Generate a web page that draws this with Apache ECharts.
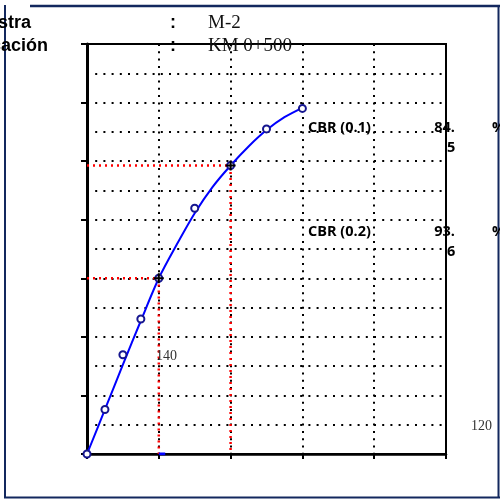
<!DOCTYPE html>
<html>
<head>
<meta charset="utf-8">
<script src="https://cdn.jsdelivr.net/npm/echarts@6/dist/echarts.min.js"></script>
<style>html,body{margin:0;padding:0;background:#fff}#c{width:500px;height:499px}</style>
</head>
<body>
<div id="c"></div>
<script>
// measured penetration (in) and load readings
var penetration = [0, 0.025, 0.05, 0.075, 0.1, 0.15, 0.2, 0.25, 0.3];
var load = [0, 152, 339, 461, 600, 839, 985, 1110, 1180];
// fitted curve
var curvePenetration = [0, 0.025, 0.05, 0.075, 0.1, 0.125, 0.15, 0.175, 0.2, 0.225, 0.25, 0.275, 0.3];
var curveLoad = [0, 152, 305, 455, 600, 715, 822, 912, 985, 1050, 1106, 1150, 1182];
// CBR reference points (penetration, load)
var cbr01 = [0.1, 600];
var cbr02 = [0.2, 985];
var cbrLabels = ['CBR (0.1)', 'CBR (0.2)'];
var cbrValuesTop = ['84.', '93.'];
var cbrValuesBottom = ['5', '6'];
var xTicks = [0, 0.1, 0.2, 0.3, 0.4, 0.5];
var yMin = 0, yMax = 1400, yInterval = 200;
var strayLabels = ['140', '120'];
var headerLabels = ['Muestra', 'Ubicación'];
var headerValues = ['M-2', 'KM 0+500'];
var axisMark = [[0.1, 0], [0.109, 0]];

var chart = echarts.init(document.getElementById('c'), null, {renderer: 'canvas'});

var pointData = penetration.map(function (p, i) { return [p, load[i]]; });
var curveData = curvePenetration.map(function (p, i) { return [p, curveLoad[i]]; });
function guide(pt) { return [[0, pt[1]], [pt[0], pt[1]], [pt[0], 0]]; }

var navy = '#13285e';
var hdrFont = 'bold 18px "Liberation Sans", Arial, sans-serif';
var serifFont = '19px "Liberation Serif", "Times New Roman", serif';
var cbrFont = 'bold 14.5px "Open Sans", sans-serif';

var option = {
  animation: false,
  backgroundColor: '#fff',
  grid: {left: 87, top: 44, width: 359, height: 410, show: true, borderColor: '#000', borderWidth: 2, backgroundColor: 'transparent'},
  xAxis: {
    type: 'value', min: xTicks[0], max: xTicks[xTicks.length - 1], interval: 0.1,
    axisLabel: {show: false},
    axisLine: {show: true, lineStyle: {color: '#000', width: 2.5}},
    axisTick: {show: true, length: 5, lineStyle: {color: '#000', width: 2}},
    splitLine: {show: true, lineStyle: {color: '#000', width: 2, type: [2, 5.3]}}
  },
  yAxis: {
    type: 'value', min: yMin, max: yMax, interval: yInterval,
    axisLabel: {show: false},
    axisLine: {show: true, lineStyle: {color: '#000', width: 3}},
    axisTick: {show: true, length: 6, lineStyle: {color: '#000', width: 2}},
    splitLine: {show: true, lineStyle: {color: '#000', width: 2, type: [2, 6.2]}},
    minorTick: {show: true, splitNumber: 2, length: 0},
    minorSplitLine: {show: true, lineStyle: {color: '#000', width: 2, type: [2, 6.2]}}
  },
  series: [
    {type: 'line', data: guide(cbr01), symbol: 'none', z: 2, lineStyle: {color: '#ff0000', width: 2.5, type: [2, 4]}},
    {type: 'line', data: guide(cbr02), symbol: 'none', z: 2, lineStyle: {color: '#ff0000', width: 2.5, type: [2, 4]}},
    {type: 'line', data: axisMark, symbol: 'none', z: 3, lineStyle: {color: '#0000ff', width: 3}},
    {
      type: 'line', data: curveData, smooth: 0.3, z: 4, symbol: 'none',
      lineStyle: {color: '#0000ff', width: 2}
    },
    {
      type: 'scatter', data: pointData, z: 5,
      symbol: 'emptyCircle', symbolSize: 7,
      itemStyle: {color: '#16168f', borderColor: '#16168f', borderWidth: 1.8, opacity: 1}
    },
    {
      type: 'scatter', data: [cbr01, cbr02], z: 6,
      symbol: 'path://M4,0h2v10h-2z M0,4h10v2h-10z', symbolSize: 10,
      itemStyle: {color: '#000', opacity: 1}
    }
  ],
  graphic: [
    {type: 'line', shape: {x1: 30, y1: 6, x2: 500, y2: 6}, style: {stroke: navy, lineWidth: 2.5}},
    {type: 'line', shape: {x1: 5, y1: 5, x2: 5, y2: 498}, style: {stroke: navy, lineWidth: 2}},
    {type: 'line', shape: {x1: 4, y1: 497.5, x2: 500, y2: 497.5}, style: {stroke: navy, lineWidth: 2}},
    {type: 'line', shape: {x1: 498.5, y1: 5, x2: 498.5, y2: 498}, style: {stroke: navy, lineWidth: 2}},
    {type: 'text', x: 31, y: 14, z: 10, style: {text: headerLabels[0], font: hdrFont, fill: '#000', align: 'right', verticalAlign: 'alphabetic'}},
    {type: 'text', x: 48, y: 37, z: 10, style: {text: headerLabels[1], font: hdrFont, fill: '#000', align: 'right', verticalAlign: 'alphabetic'}},
    {type: 'text', x: 173, y: 14, z: 10, style: {text: ':', font: hdrFont, fill: '#000', align: 'center', verticalAlign: 'alphabetic'}},
    {type: 'text', x: 173, y: 37, z: 10, style: {text: ':', font: hdrFont, fill: '#000', align: 'center', verticalAlign: 'alphabetic'}},
    {type: 'text', x: 208, y: 14, z: 10, style: {text: headerValues[0], font: serifFont, fill: '#111', align: 'left', verticalAlign: 'alphabetic'}},
    {type: 'text', x: 208, y: 37, z: 10, style: {text: headerValues[1], font: serifFont, fill: '#111', align: 'left', verticalAlign: 'alphabetic'}},
    {type: 'text', x: 308, y: 128, z: 10, style: {text: cbrLabels[0], font: cbrFont, fill: '#000', align: 'left', verticalAlign: 'middle'}},
    {type: 'text', x: 308, y: 232, z: 10, style: {text: cbrLabels[1], font: cbrFont, fill: '#000', align: 'left', verticalAlign: 'middle'}},
    {type: 'text', x: 455, y: 128, z: 10, style: {text: cbrValuesTop[0], font: cbrFont, fill: '#000', align: 'right', verticalAlign: 'middle'}},
    {type: 'text', x: 455, y: 232, z: 10, style: {text: cbrValuesTop[1], font: cbrFont, fill: '#000', align: 'right', verticalAlign: 'middle'}},
    {type: 'text', x: 447, y: 148, z: 10, style: {text: cbrValuesBottom[0], font: cbrFont, fill: '#000', align: 'left', verticalAlign: 'middle'}},
    {type: 'text', x: 447, y: 252, z: 10, style: {text: cbrValuesBottom[1], font: cbrFont, fill: '#000', align: 'left', verticalAlign: 'middle'}},
    {type: 'text', x: 492, y: 128, z: 10, style: {text: '%', font: cbrFont, fill: '#000', align: 'left', verticalAlign: 'middle'}},
    {type: 'text', x: 492, y: 232, z: 10, style: {text: '%', font: cbrFont, fill: '#000', align: 'left', verticalAlign: 'middle'}},
    {type: 'text', x: 156, y: 356, z: 10, style: {text: strayLabels[0], font: '14px "Liberation Serif", serif', fill: '#333', align: 'left', verticalAlign: 'middle'}},
    {type: 'text', x: 471, y: 426, z: 10, style: {text: strayLabels[1], font: '14px "Liberation Serif", serif', fill: '#333', align: 'left', verticalAlign: 'middle'}}
  ]
};
chart.setOption(option);
</script>
</body>
</html>
